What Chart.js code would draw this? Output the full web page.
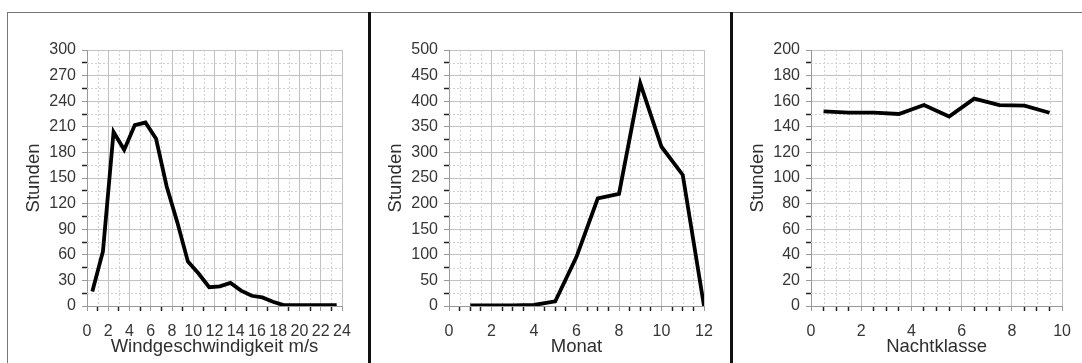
<!DOCTYPE html>
<html>
<head>
<meta charset="utf-8">
<script src="https://cdn.jsdelivr.net/npm/chart.js@4.4.1/dist/chart.umd.min.js"></script>
<style>
  body { margin: 0; background: #fff; width: 1082px; height: 363px; overflow: hidden; position: relative; }
  .rule { position: absolute; }
  .panel { position: absolute; top: 13px; height: 350px; }
</style>
</head>
<body>
<div class="rule" style="left:7px;top:12px;width:1075px;height:1px;background:#777"></div>
<div class="rule" style="left:7px;top:12px;width:1px;height:351px;background:#777"></div>
<div class="rule" style="left:368px;top:12px;width:3px;height:351px;background:#111"></div>
<div class="rule" style="left:730px;top:12px;width:3px;height:351px;background:#111"></div>

<div class="panel" style="left:9px;width:358px"><canvas id="wind" width="358" height="350"></canvas></div>
<div class="panel" style="left:371px;width:358px"><canvas id="month" width="358" height="350"></canvas></div>
<div class="panel" style="left:733px;width:349px"><canvas id="night" width="349" height="350"></canvas></div>

<script>
// Stunden je Windgeschwindigkeit
let windSpeed = [0.5, 1.5, 2.5, 3.5, 4.5, 5.5, 6.5, 7.5, 8.5, 9.5, 10.5, 11.5, 12.5, 13.5, 14.5, 15.5, 16.5, 17.5, 18.5, 19.5, 20.5, 21.5, 22.5, 23.5];
let windHours = [17, 64, 204, 183, 212, 215, 196, 140, 98, 52, 38, 22, 23, 27, 18, 12, 10, 5, 1, 1, 1, 1, 1, 1];

// Stunden je Monat
let months = [1, 2, 3, 4, 5, 6, 7, 8, 9, 10, 11, 12];
let monthHours = [1, 1, 1, 2, 9, 96, 210, 219, 435, 311, 256, 0];

// Stunden je Nachtklasse
let nightClass = [0.5, 1.5, 2.5, 3.5, 4.5, 5.5, 6.5, 7.5, 8.5, 9.5];
let nightHours = [152, 151, 151, 150, 157, 148, 162, 157, 156.5, 151];

Chart.defaults.font.family = "'Liberation Sans', Arial, sans-serif";
Chart.defaults.color = '#363636';

function isMajor(v, major) {
  return Math.abs(v / major - Math.round(v / major)) < 1e-6;
}

// dashed grid lines for the minor ticks
let minorGrid = {
  id: 'minorGrid',
  beforeDatasetsDraw(chart) {
    let ctx = chart.ctx;
    let area = chart.chartArea;
    ctx.save();
    ctx.strokeStyle = '#d2d2d2';
    ctx.lineWidth = 1;
    ctx.setLineDash([2, 2]);
    for (let id of ['x', 'y']) {
      let scale = chart.scales[id];
      let major = scale.options.majorStep;
      scale.ticks.forEach((t, i) => {
        if (isMajor(t.value, major)) return;
        let p = Math.round(scale.getPixelForTick(i)) + 0.5;
        ctx.beginPath();
        if (id == 'x') { ctx.moveTo(p, area.top); ctx.lineTo(p, area.bottom); }
        else { ctx.moveTo(area.left, p); ctx.lineTo(area.right, p); }
        ctx.stroke();
      });
    }
    ctx.restore();
  }
};

function axis(max, step, major, title, isX) {
  return {
    type: 'linear',
    min: 0,
    max: max,
    majorStep: major,
    afterFit: isX ? (s => { s.height = 57; }) : (s => { s.width = 78; }),
    border: { color: '#999', width: 1 },
    grid: {
      color: ctx => isMajor(ctx.tick.value, major) ? '#c2c2c2' : 'rgba(0,0,0,0)',
      tickColor: ctx => isMajor(ctx.tick.value, major) ? '#999' : '#222',
      tickWidth: ctx => isMajor(ctx.tick.value, major) ? 1 : 1.5,
      tickLength: 5,
    },
    ticks: {
      stepSize: step,
      autoSkip: false,
      maxRotation: 0,
      padding: isX ? 11 : 6,
      font: { size: 16 },
      callback: v => isMajor(v, major) ? String(v) : '',
    },
    title: {
      display: true,
      text: title,
      color: '#2e2e2e',
      font: { size: 18.5 },
      padding: isX ? { top: 0, bottom: 5 } : { top: 14, bottom: 0 },
    },
  };
}

function makeChart(id, xs, ys, xMax, xStep, xMajor, xTitle, yMax, yStep, yMajor, rightPad) {
  return new Chart(document.getElementById(id), {
    type: 'line',
    data: {
      datasets: [{
        data: xs.map((x, i) => ({ x: x, y: ys[i] })),
        borderColor: '#000',
        borderWidth: 3.8,
        pointRadius: 0,
        tension: 0,
      }],
    },
    options: {
      responsive: false,
      animation: false,
      layout: { padding: { left: 0, right: rightPad, top: 37, bottom: 0 } },
      plugins: { legend: { display: false }, tooltip: { enabled: false } },
      scales: {
        x: axis(xMax, xStep, xMajor, xTitle, true),
        y: axis(yMax, yStep, yMajor, 'Stunden', false),
      },
    },
    plugins: [minorGrid],
  });
}

makeChart('wind', windSpeed, windHours, 24, 1, 2, 'Windgeschwindigkeit m/s', 300, 15, 30, 25);
makeChart('month', months, monthHours, 12, 0.5, 2, 'Monat', 500, 25, 50, 25);
makeChart('night', nightClass, nightHours, 10, 0.5, 2, 'Nachtklasse', 200, 10, 20, 14.5);
</script>
</body>
</html>
